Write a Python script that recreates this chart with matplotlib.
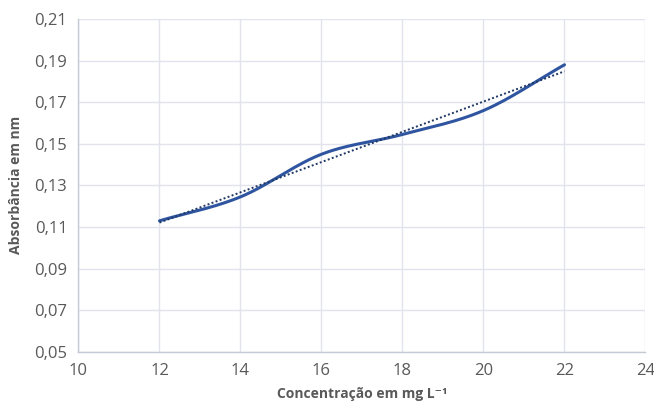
import matplotlib
matplotlib.use('Agg')
import matplotlib.pyplot as plt
from matplotlib.ticker import FuncFormatter
import numpy as np

# Data
conc = [12, 14, 16, 18, 20, 22]
absorb = [0.113, 0.1245, 0.145, 0.1545, 0.166, 0.188]

x_ticks = [10, 12, 14, 16, 18, 20, 22, 24]
y_ticks = [0.05, 0.07, 0.09, 0.11, 0.13, 0.15, 0.17, 0.19, 0.21]


def smooth_curve(xs, ys, n=40):
    # Catmull-Rom style smoothing similar to Excel's smoothed lines
    xs = np.asarray(xs, float)
    ys = np.asarray(ys, float)
    px = np.concatenate([[2 * xs[0] - xs[1]], xs, [2 * xs[-1] - xs[-2]]])
    py = np.concatenate([[2 * ys[0] - ys[1]], ys, [2 * ys[-1] - ys[-2]]])
    out_x, out_y = [], []
    t = np.linspace(0, 1, n)
    for i in range(1, len(px) - 2):
        for arr, out in ((px, out_x), (py, out_y)):
            p0, p1, p2, p3 = arr[i - 1], arr[i], arr[i + 1], arr[i + 2]
            seg = 0.5 * ((2 * p1) + (-p0 + p2) * t
                         + (2 * p0 - 5 * p1 + 4 * p2 - p3) * t ** 2
                         + (-p0 + 3 * p1 - 3 * p2 + p3) * t ** 3)
            out.extend(seg)
    return np.array(out_x), np.array(out_y)


plt.rcParams['font.family'] = ['Open Sans', 'DejaVu Sans']
text_color = '#595959'
grid_color = '#e1e4ec'

fig = plt.figure(figsize=(6.54, 4.04), dpi=100)
ax = fig.add_axes([0.12, 0.129, 0.867, 0.824])

sx, sy = smooth_curve(conc, absorb)
ax.plot(sx, sy, color='#2f55a0', linewidth=2.2, solid_capstyle='round', zorder=3)

# Linear trendline
slope, intercept = np.polyfit(conc, absorb, 1)
tx = np.array([conc[0], conc[-1]])
ax.plot(tx, slope * tx + intercept, color='#1f3864', linewidth=1.4,
        linestyle=(0, (1, 1.2)), zorder=4)

ax.set_xlim(10, 24)
ax.set_ylim(0.05, 0.21)
ax.set_xticks(x_ticks)
ax.set_yticks(y_ticks)
ax.yaxis.set_major_formatter(FuncFormatter(lambda v, p: f'{v:.2f}'.replace('.', ',')))
ax.grid(True, color=grid_color, linewidth=1.0)
ax.set_axisbelow(True)

for side in ['top', 'right']:
    ax.spines[side].set_visible(False)
for side in ['left', 'bottom']:
    ax.spines[side].set_color('#c5cad6')
    ax.spines[side].set_linewidth(1.0)

ax.tick_params(length=0, colors=text_color, labelsize=12, pad=8)

ax.set_xlabel('Concentração em mg L⁻¹', color=text_color, fontsize=10,
              fontweight='bold', labelpad=6)
ax.set_ylabel('Absorbância em nm', color=text_color, fontsize=10,
              fontweight='bold', labelpad=8)

fig.savefig('out.png', dpi=100)
